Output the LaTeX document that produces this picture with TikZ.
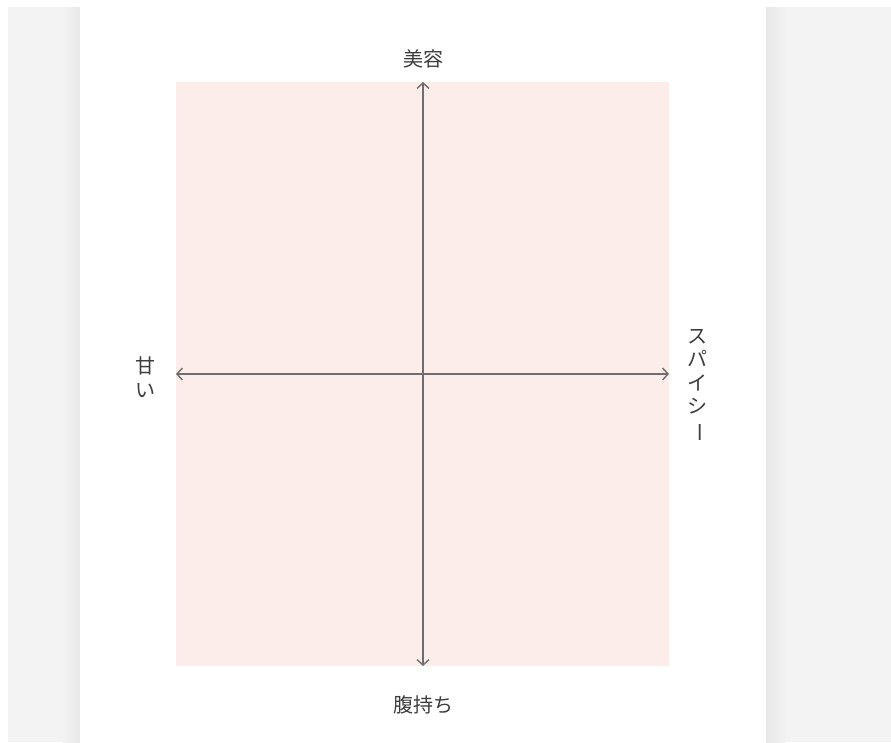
\documentclass[tikz,border=0pt]{standalone}
\usepackage{fontspec}
\setmainfont{Noto Sans CJK JP}
\usetikzlibrary{arrows.meta}
\definecolor{pagegray}{RGB}{243,243,243}
\definecolor{shadowgray}{RGB}{232,232,232}
\definecolor{quadpink}{RGB}{252,237,234}
\definecolor{axisgray}{RGB}{110,110,110}
\definecolor{labelgray}{RGB}{60,60,60}
\tikzset{
  axisline/.style={draw=axisgray, line width=1.5pt, {Straight Barb[length=5.5pt,width=12pt,line width=1.4pt]}-{Straight Barb[length=5.5pt,width=12pt,line width=1.4pt]}},
  axislabel/.style={text=labelgray, font=\fontsize{20}{22}\selectfont, inner sep=0pt, align=center},
  vlabel/.style={axislabel, font=\fontsize{20}{23.5}\selectfont}
}
\begin{document}
\begin{tikzpicture}[x=1pt,y=-1pt]
  \useasboundingbox (0,0) rectangle (891,742);
  \fill[white] (0,0) rectangle (891,742);
  \fill[pagegray] (8,7) rectangle (891,742);
  \shade[left color=pagegray, right color=shadowgray] (62,7) rectangle (80,742);
  \shade[left color=shadowgray, right color=pagegray] (766,7) rectangle (786,742);
  \fill[white] (80,7) rectangle (766,742);
  \fill[quadpink] (176,82) rectangle (669,666);
  \coordinate (top) at (423,82);
  \coordinate (bottom) at (423,666);
  \coordinate (left) at (176,374);
  \coordinate (right) at (669,374);
  \draw[axisline] (bottom) -- (top);
  \draw[axisline] (left) -- (right);
  \node[axislabel] (beauty) at (423,59) {美容};
  \node[axislabel] (filling) at (423,705) {腹持ち};
  \node[vlabel] (sweet) at (145,377) {甘\\い};
  \node[vlabel] (spicy) at (697,386) {ス\\パ\\イ\\シ\\\rotatebox[origin=c]{-90}{ー}};
\end{tikzpicture}
\end{document}
